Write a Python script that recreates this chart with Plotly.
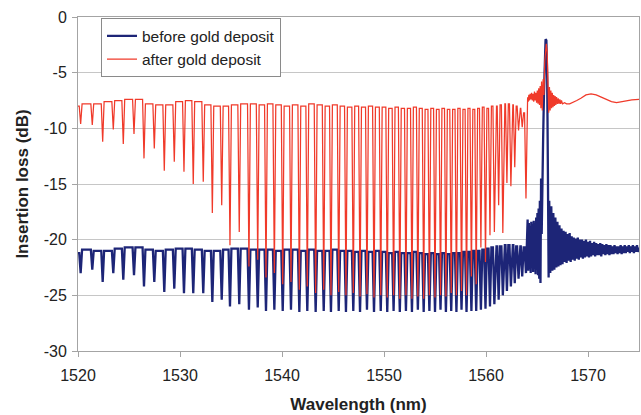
import plotly.graph_objects as go

# ---------------- data ----------------
# wavelengths (nm) of the cladding-mode resonance dips (shared by both spectra)
dip_wl = [1520.26, 1521.40, 1522.42, 1523.46, 1524.44, 1525.49, 1526.47, 1527.48, 1528.46, 1529.44,
          1530.39, 1531.30, 1532.28, 1533.17, 1534.09,
          1534.90, 1535.81, 1536.76, 1537.62, 1538.43, 1539.25, 1540.07, 1540.88, 1541.70, 1542.48,
          1543.30, 1544.09, 1544.80, 1545.56, 1546.27, 1546.99, 1547.65, 1548.33, 1549.02, 1549.68,
          1550.32, 1550.94, 1551.55, 1552.15, 1552.74, 1553.32, 1553.89, 1554.45, 1555.00, 1555.54,
          1556.07, 1556.59, 1557.10, 1557.60, 1558.09, 1558.57, 1559.04, 1559.50, 1559.95, 1560.39,
          1560.82, 1561.24, 1561.65, 1562.05, 1562.44, 1562.82, 1563.19, 1563.55, 1563.92]

# after gold deposit: dip depth and arch top before each dip (dB)
red_dip = [-9.6, -9.7, -11.2, -10.1, -11.4, -10.5, -12.7, -11.8, -13.8, -13.0,
           -13.9, -15.0, -14.8, -17.6, -16.9,
           -20.5, -19.3, -22.4, -21.8, -23.4, -23.0, -24.0, -23.8, -24.5, -24.2,
           -24.8, -24.5, -25.0, -24.7, -25.0, -24.8, -25.1, -24.9, -25.2, -25.0,
           -25.2, -25.0, -25.3, -25.0, -25.3, -25.1, -25.3, -25.0, -25.2, -25.0,
           -25.1, -24.8, -25.0, -24.6, -25.0, -23.3, -24.0, -20.7, -22.0, -19.6,
           -19.3, -16.9, -19.4, -14.9, -15.2, -13.5, -10.2, -9.9, -16.3]
red_top = [-8.0, -7.8, -7.8, -7.6, -7.5, -7.4, -7.4, -7.8, -7.9, -7.9,
           -7.6, -7.5, -7.6, -7.9, -8.0,
           -8.0, -7.9, -7.8, -7.8, -7.9, -7.8, -7.9, -8.0, -7.9, -8.0,
           -7.8, -7.9, -8.0, -7.9, -8.0, -8.1, -8.0, -8.1, -8.0, -8.1,
           -8.1, -8.2, -8.1, -8.2, -8.2, -8.1, -8.2, -8.3, -8.2, -8.3,
           -8.2, -8.3, -8.3, -8.2, -8.3, -8.2, -8.3, -8.2, -8.1, -8.2,
           -8.0, -8.0, -7.9, -7.8, -7.8, -7.9, -8.0, -8.2, -8.6]

# before gold deposit
blue_dip = [-23.0, -22.7, -23.8, -23.0, -23.6, -23.2, -24.2, -23.8, -24.7, -24.4,
            -24.8, -24.8, -24.8, -25.6, -25.4,
            -26.0, -25.8, -26.3, -26.1, -26.4, -26.3, -26.4, -26.3, -26.5, -26.4,
            -26.5, -26.4, -26.5, -26.4, -26.5, -26.4, -26.5, -26.3, -26.5, -26.4,
            -26.5, -26.4, -26.5, -26.4, -26.5, -26.3, -26.5, -26.4, -26.5, -26.3,
            -26.5, -26.4, -26.5, -26.3, -26.5, -26.4, -26.4, -26.3, -26.2, -26.0,
            -25.8, -25.4, -25.0, -24.6, -24.2, -23.9, -23.5, -23.3, -23.0]
blue_top = [-21.2, -20.9, -21.0, -21.0, -20.8, -20.7, -20.7, -20.9, -21.0, -20.9,
            -20.8, -20.8, -20.9, -21.0, -21.0,
            -20.9, -20.8, -20.8, -20.9, -20.9, -20.9, -21.0, -20.9, -20.9, -21.0,
            -20.9, -21.0, -21.0, -20.9, -21.0, -21.0, -21.1, -21.0, -21.1, -21.0,
            -21.1, -21.2, -21.1, -21.2, -21.2, -21.1, -21.2, -21.3, -21.2, -21.3,
            -21.2, -21.3, -21.2, -21.2, -21.1, -21.1, -21.0, -21.0, -20.9, -20.8,
            -20.7, -20.6, -20.6, -20.5, -20.5, -20.5, -20.6, -20.6, -20.7]

# Bragg region and beyond (after gold deposit)
red_tail_wl = [1564.08, 1564.14, 1564.20, 1564.26, 1564.33, 1564.40, 1564.47, 1564.54, 1564.61, 1564.68,
               1564.75, 1564.82, 1564.89, 1564.96, 1565.03, 1565.10, 1565.17, 1565.24, 1565.31, 1565.38,
               1565.45, 1565.52, 1565.60, 1565.68, 1565.76, 1565.84, 1565.91, 1566.00, 1566.08, 1566.15,
               1566.22, 1566.29, 1566.36, 1566.43, 1566.50, 1566.57, 1566.64, 1566.71, 1566.78, 1566.85,
               1566.92, 1567.00, 1567.08, 1567.16, 1567.24, 1567.32, 1567.40, 1567.50, 1567.70, 1567.90,
               1568.20, 1568.50, 1568.90, 1569.30, 1569.80, 1570.30, 1570.80, 1571.30, 1571.80, 1572.30,
               1572.80, 1573.30, 1573.80, 1574.30, 1575.00]
red_tail_db = [-7.2, -7.6, -7.0, -7.5, -6.9, -7.4, -6.8, -7.5, -6.9, -7.6,
               -6.7, -7.5, -6.8, -7.7, -6.6, -7.8, -6.4, -7.9, -6.2, -8.2,
               -5.8, -8.4, -5.6, -7.0, -4.0, -2.6, -2.4, -3.2, -5.5, -8.6,
               -6.3, -8.4, -6.6, -8.2, -6.8, -8.1, -7.0, -8.0, -7.1, -7.9,
               -7.2, -7.8, -7.3, -7.8, -7.4, -7.8, -7.5, -7.8, -7.7, -7.8,
               -7.8, -7.7, -7.5, -7.3, -7.0, -6.9, -7.0, -7.2, -7.4, -7.6,
               -7.7, -7.6, -7.5, -7.45, -7.4]

# Bragg region and beyond (before gold deposit)
blue_tail_wl = [1564.02, 1564.08, 1564.14, 1564.20, 1564.26, 1564.32, 1564.38, 1564.44, 1564.50, 1564.56,
                1564.62, 1564.68, 1564.74, 1564.80, 1564.86, 1564.92, 1564.98, 1565.04, 1565.10, 1565.16,
                1565.22, 1565.28, 1565.34, 1565.40, 1565.46, 1565.52, 1565.60, 1565.68, 1565.76, 1565.84,
                1565.92, 1566.00, 1566.07, 1566.14,
                1566.20, 1566.30, 1566.40, 1566.50, 1566.60, 1566.70, 1566.80, 1566.90, 1567.00, 1567.10,
                1567.20, 1567.30, 1567.40, 1567.50, 1567.60, 1567.70, 1567.80, 1567.90, 1568.00, 1568.10,
                1568.20, 1568.30, 1568.40, 1568.50, 1568.60, 1568.70, 1568.80, 1568.90, 1569.00, 1569.10,
                1569.20, 1569.30, 1569.40, 1569.50, 1569.60, 1569.70, 1569.80, 1569.90, 1570.00, 1570.10,
                1570.20, 1570.30, 1570.40, 1570.50, 1570.60, 1570.70, 1570.80, 1570.90, 1571.00, 1571.10,
                1571.20, 1571.30, 1571.40, 1571.50, 1571.60, 1571.70, 1571.80, 1571.90, 1572.00, 1572.10,
                1572.20, 1572.30, 1572.40, 1572.50, 1572.60, 1572.70, 1572.80, 1572.90, 1573.00, 1573.10,
                1573.20, 1573.30, 1573.40, 1573.50, 1573.60, 1573.70, 1573.80, 1573.90, 1574.00, 1574.10,
                1574.20, 1574.30, 1574.40, 1574.50, 1574.60, 1574.70, 1574.80, 1574.90, 1575.00]
blue_tail_db = [-20.5, -18.2, -22.8, -18.5, -22.6, -18.8, -23.0, -18.4, -22.5, -18.6,
                -22.9, -18.3, -22.6, -18.5, -23.1, -18.0, -22.7, -17.6, -23.2, -17.2,
                -23.5, -16.5, -23.9, -14.5, -19.5, -12.5, -11.0, -7.0, -3.0, -2.0,
                -2.1, -5.5, -14.0, -23.4,
                -16.5, -23.0, -17.0, -22.8, -17.6, -22.7, -18.0, -22.5, -18.4, -22.4,
                -18.7, -22.3, -19.0, -22.2, -19.2, -22.0, -19.3, -22.1, -19.5, -21.9,
                -19.4, -22.0, -19.7, -21.8, -19.8, -21.9, -19.9, -21.7, -19.8, -21.8,
                -20.0, -21.6, -20.0, -21.7, -20.1, -21.6, -20.0, -21.5, -20.2, -21.6,
                -20.1, -21.5, -20.3, -21.4, -20.2, -21.5, -20.3, -21.4, -20.4, -21.4,
                -20.3, -21.5, -20.4, -21.3, -20.5, -21.4, -20.4, -21.3, -20.5, -21.4,
                -20.5, -21.3, -20.6, -21.3, -20.5, -21.2, -20.6, -21.3, -20.6, -21.2,
                -20.5, -21.3, -20.6, -21.2, -20.5, -21.2, -20.6, -21.1, -20.5, -21.2,
                -20.6, -21.1, -20.5, -21.2, -20.6, -21.1, -20.5, -21.1, -20.7]

x_ticks = [1520, 1530, 1540, 1550, 1560, 1570]
y_ticks = [0, -5, -10, -15, -20, -25, -30]

# ---------------- build the spectra ----------------
DIP_HALF = 0.14  # half width of a resonance notch (nm)


def spectrum(tops, dips, tail_wl, tail_db):
    xs, ys = [], []
    n = len(dip_wl)
    for i in range(n):
        d = dip_wl[i]
        mid = 1520.0 if i == 0 else (dip_wl[i - 1] + d) / 2
        xs += [mid, d - DIP_HALF, d]
        ys += [tops[i], tops[i], dips[i]]
        if i + 1 < n:
            xs.append(d + DIP_HALF)
            ys.append(tops[i + 1])
    xs += tail_wl
    ys += tail_db
    return xs, ys


bx, by = spectrum(blue_top, blue_dip, blue_tail_wl, blue_tail_db)
rx, ry = spectrum(red_top, red_dip, red_tail_wl, red_tail_db)

BLUE = "#1d2577"
RED = "#f03a2a"
GRID = "#c6c6c6"
FRAME = "#a4a4a4"
FONT = "Liberation Sans, Arial, sans-serif"

fig = go.Figure()
fig.add_trace(go.Scatter(x=bx, y=by, mode="lines", name="before gold deposit",
                         line=dict(color=BLUE, width=2.3)))
fig.add_trace(go.Scatter(x=rx, y=ry, mode="lines", name="after gold deposit",
                         line=dict(color=RED, width=1.25)))

fig.update_layout(
    width=641, height=415,
    margin=dict(l=78, r=2, t=17, b=64, autoexpand=False),
    plot_bgcolor="white", paper_bgcolor="white",
    font=dict(family=FONT, color="#222222", size=16),
    showlegend=True,
    legend=dict(x=0.041, y=0.996, xanchor="left", yanchor="top",
                bgcolor="white", bordercolor="#8a8a8a", borderwidth=1,
                font=dict(size=15.5, color="#222222"), itemwidth=30,
                tracegroupgap=0),
)
fig.update_xaxes(
    range=[1520, 1575], tickvals=x_ticks, ticktext=[str(v) for v in x_ticks],
    showgrid=False, showline=True, linecolor=FRAME, linewidth=1, mirror=True,
    ticks="outside", ticklen=5, tickcolor=FRAME, ticklabelstandoff=5,
    tickfont=dict(size=16), zeroline=False, automargin=False,
    title=dict(text="<b>Wavelength (nm)</b>", font=dict(size=17), standoff=14),
)
fig.update_yaxes(
    range=[-30, 0], tickvals=y_ticks, ticktext=[str(v) for v in y_ticks],
    showgrid=True, gridcolor=GRID, gridwidth=1,
    showline=True, linecolor=FRAME, linewidth=1, mirror=True,
    ticks="outside", ticklen=5, tickcolor=FRAME, ticklabelstandoff=2,
    tickfont=dict(size=16), zeroline=False, automargin=False,
    title=dict(text="<b>Insertion loss (dB)</b>", font=dict(size=17), standoff=10),
)

fig.write_html(
    "out.html",
    config={"displayModeBar": False},
    post_script="document.body.style.margin='0';document.body.style.overflow='hidden';",
)
